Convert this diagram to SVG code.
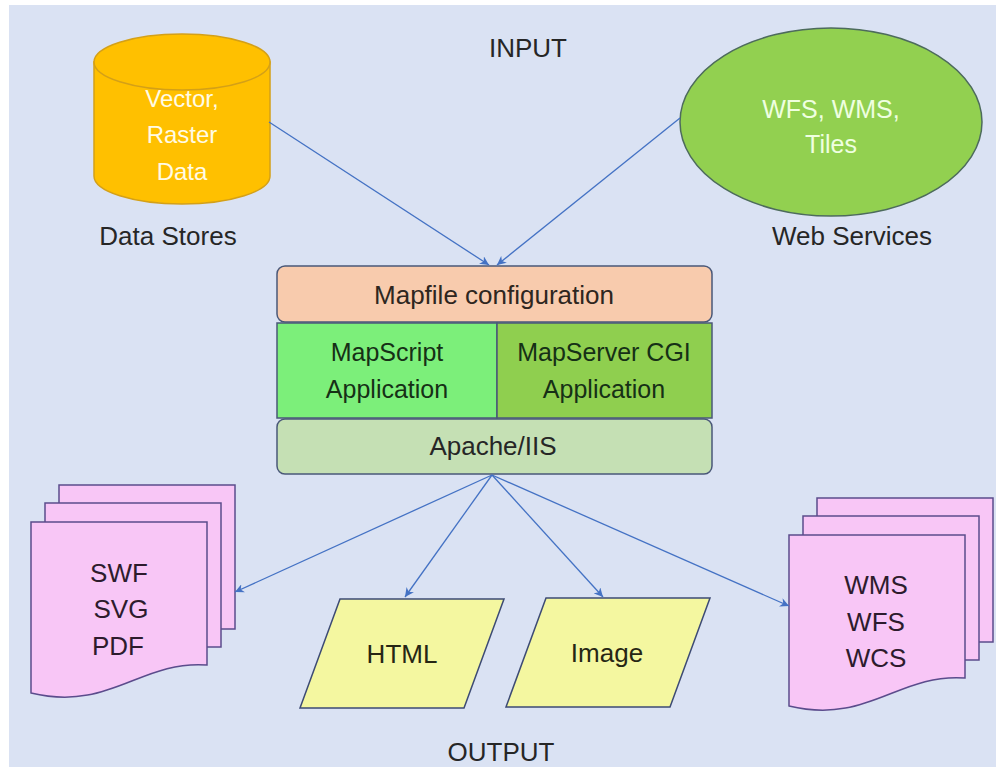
<svg xmlns="http://www.w3.org/2000/svg" xmlns:xlink="http://www.w3.org/1999/xlink" width="996" height="767" viewBox="0 0 996 767">
<style>
text{font-family:"Liberation Sans",Arial,sans-serif;text-anchor:middle}
.lbl{font-size:26px;fill:#262626}
.box{stroke:#4a5878;stroke-width:1.5}
.page{fill:#f8c6f6;stroke:#5b4c8c;stroke-width:1.5}
.para{fill:#f4f7a0;stroke:#3d4b74;stroke-width:1.5}
.conn{fill:none;stroke:#4472c4;stroke-width:1.3;marker-end:url(#arr)}
</style>
<defs>
<marker id="arr" viewBox="0 0 10 10" refX="10" refY="5" markerWidth="9" markerHeight="9" markerUnits="userSpaceOnUse" orient="auto">
<path d="M0,0 L10,5 L0,10 L3,5 Z" fill="#4472c4"/>
</marker>
<rect id="pg" width="176" height="144"/>
<path id="docfront" d="M0,0 H176 V143 C109,138 79,190 0,171 Z"/>
</defs>
<rect x="0" y="0" width="996" height="767" fill="#ffffff"/>
<rect x="9" y="5" width="987" height="762" fill="#dae2f3"/>

<text class="lbl" x="528" y="57">INPUT</text>
<text class="lbl" x="501" y="761">OUTPUT</text>

<g id="datastores">
<path d="M94,62 L94,176 A88,28 0 0 0 270,176 L270,62 Z" fill="#ffc000" stroke="#d4a017" stroke-width="1.5"/>
<ellipse cx="182" cy="62" rx="88" ry="28" fill="#ffc000" stroke="#d4a017" stroke-width="1.5"/>
<g style="font-size:24px;fill:#fffbe6">
<text x="182" y="107">Vector,</text>
<text x="182" y="143">Raster</text>
<text x="182" y="180">Data</text>
</g>
<text class="lbl" x="168" y="245">Data Stores</text>
</g>

<g id="webservices">
<ellipse cx="831" cy="122" rx="151" ry="94" fill="#92d050" stroke="#4d6b5c" stroke-width="1.5"/>
<g style="font-size:25px;fill:#efffe0">
<text x="831" y="118">WFS, WMS,</text>
<text x="831" y="153">Tiles</text>
</g>
<text class="lbl" x="852" y="245">Web Services</text>
</g>

<g id="mapfile">
<rect class="box" x="277" y="266" width="435" height="56" rx="8" fill="#f8cbad"/>
<text x="494" y="304" style="font-size:26px;fill:#2e2620">Mapfile configuration</text>
</g>
<g id="mapscript">
<rect class="box" x="277" y="323" width="220" height="95" fill="#7cef7a"/>
<text x="387" y="361" style="font-size:25px;fill:#163016">MapScript</text>
<text x="387" y="398" style="font-size:25px;fill:#163016">Application</text>
</g>
<g id="mapservercgi">
<rect class="box" x="497" y="323" width="215" height="95" fill="#8fcf4f"/>
<text x="604" y="361" style="font-size:25px;fill:#163016">MapServer CGI</text>
<text x="604" y="398" style="font-size:25px;fill:#163016">Application</text>
</g>
<g id="apache">
<rect class="box" x="277" y="419" width="435" height="55" rx="8" fill="#c5e0b4"/>
<text x="493" y="455" style="font-size:26px;fill:#262626">Apache/IIS</text>
</g>

<g id="docs-left">
<use xlink:href="#pg" class="page" x="59" y="485"/>
<use xlink:href="#pg" class="page" x="45" y="503"/>
<use xlink:href="#docfront" class="page" transform="translate(31,522)"/>
<g style="font-size:26px;fill:#2d1b2d">
<text x="119" y="582">SWF</text>
<text x="121" y="618">SVG</text>
<text x="118" y="655">PDF</text>
</g>
</g>

<g id="docs-right">
<use xlink:href="#pg" class="page" x="817" y="498"/>
<use xlink:href="#pg" class="page" x="803" y="516"/>
<use xlink:href="#docfront" class="page" transform="translate(789,535)"/>
<g style="font-size:26px;fill:#2d1b2d">
<text x="876" y="594">WMS</text>
<text x="876" y="631">WFS</text>
<text x="876" y="667">WCS</text>
</g>
</g>

<g id="html">
<polygon class="para" points="340,599 504,599 464,708 300,708"/>
<text x="402" y="663" style="font-size:26px;fill:#262614">HTML</text>
</g>
<g id="image">
<polygon class="para" points="546,598 710,598 670,707 506,707"/>
<text x="607" y="662" style="font-size:26px;fill:#262614">Image</text>
</g>

<g id="connectors">
<line class="conn" x1="269" y1="122" x2="489" y2="265"/>
<line class="conn" x1="680" y1="118" x2="497" y2="265"/>
<line class="conn" x1="492" y1="475" x2="235" y2="592"/>
<line class="conn" x1="492" y1="475" x2="405" y2="597"/>
<line class="conn" x1="492" y1="475" x2="603" y2="597"/>
<line class="conn" x1="492" y1="475" x2="789" y2="606"/>
</g>
</svg>
